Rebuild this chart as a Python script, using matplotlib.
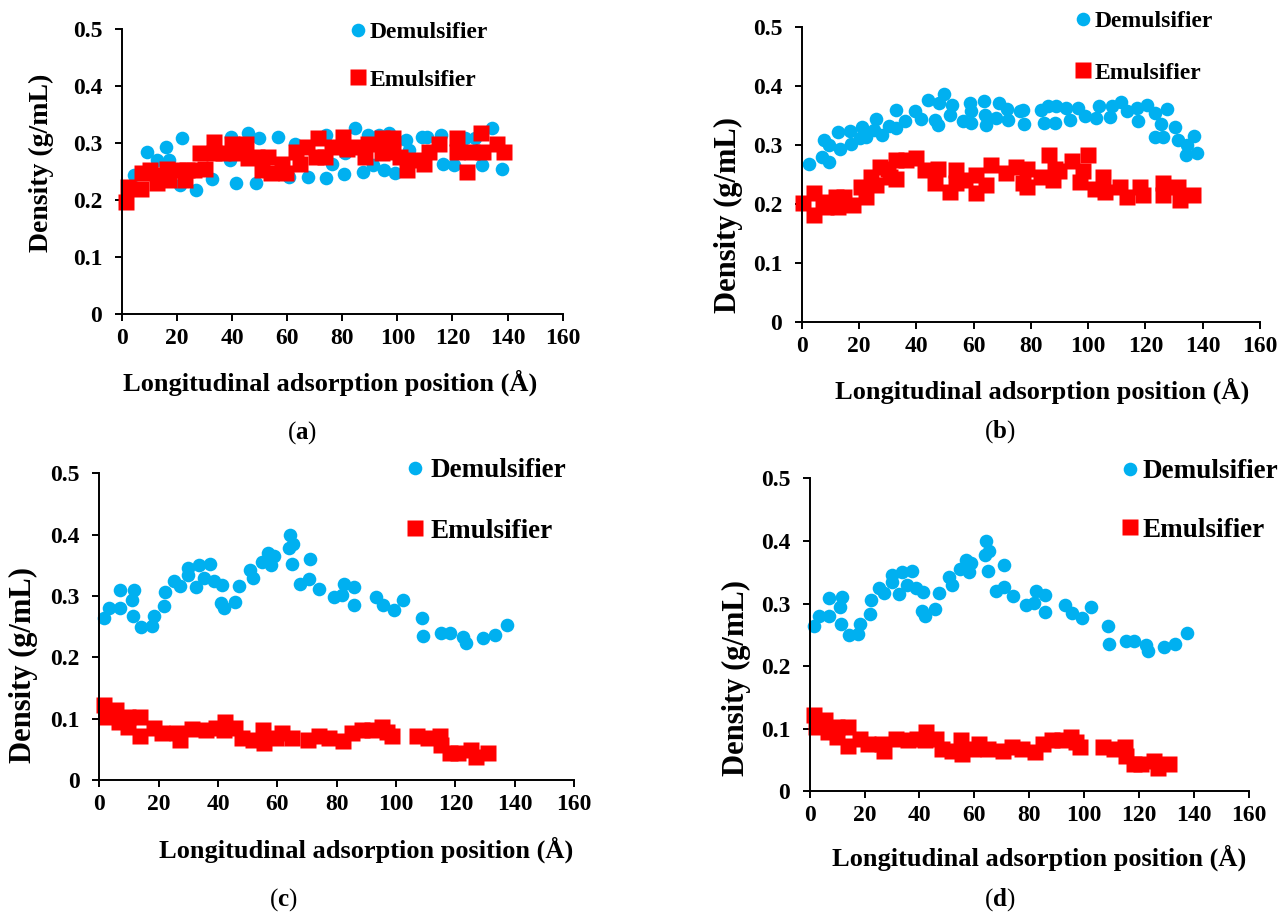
import numpy as np
import matplotlib.pyplot as plt

plt.rcParams['font.family'] = 'Liberation Serif'
plt.rcParams['font.weight'] = 'bold'
plt.rcParams['mathtext.fontset'] = 'custom'
plt.rcParams['mathtext.rm'] = 'Liberation Serif'
plt.rcParams['mathtext.bf'] = 'Liberation Serif:bold'

BLUE = '#00B0F0'
RED = '#FF0000'

# ---- (a) ----
dem_a_x = [4.3, 9.1, 12.7, 16.0, 17.3, 21.2, 21.8, 26.8, 32.9, 39.4, 39.7, 41.3, 45.8, 48.8,
           49.7, 56.6, 60.8, 63.0, 67.5, 74.0, 74.0, 76.4, 80.5, 80.9, 84.8, 87.4, 89.4, 91.3,
           93.2, 95.2, 97.1, 99.1, 103.0, 104.3, 108.8, 110.8, 116.0, 116.6, 120.5, 124.4,
           128.3, 130.9, 134.2, 138.1]
dem_a_y = [0.244, 0.285, 0.270, 0.293, 0.270, 0.226, 0.308, 0.217, 0.236, 0.270, 0.310, 0.229,
           0.317, 0.229, 0.308, 0.311, 0.241, 0.299, 0.241, 0.314, 0.238, 0.264, 0.245, 0.282,
           0.327, 0.250, 0.314, 0.261, 0.314, 0.252, 0.317, 0.247, 0.305, 0.288, 0.311, 0.311,
           0.314, 0.264, 0.261, 0.308, 0.308, 0.261, 0.326, 0.255]
emu_a_x = [1.7, 2.3, 6.9, 7.5, 10.1, 12.7, 13.4, 16.6, 17.3, 20.5, 23.1, 23.8, 26.4, 28.3,
           30.3, 33.5, 33.5, 36.8, 40.0, 41.3, 45.2, 45.8, 49.1, 51.0, 53.0, 54.3, 58.2, 59.5,
           63.4, 64.7, 67.3, 70.5, 71.2, 73.8, 76.4, 80.3, 81.6, 85.5, 88.1, 89.4, 94.5, 94.5,
           98.4, 98.4, 101.0, 103.6, 106.2, 109.5, 111.4, 115.3, 121.8, 121.8, 125.1, 127.0,
           130.3, 131.0, 136.1, 138.7]
emu_a_y = [0.197, 0.223, 0.220, 0.247, 0.252, 0.229, 0.244, 0.255, 0.235, 0.252, 0.235, 0.252,
           0.252, 0.282, 0.255, 0.302, 0.282, 0.282, 0.299, 0.282, 0.299, 0.273, 0.276, 0.252,
           0.276, 0.247, 0.264, 0.247, 0.285, 0.264, 0.293, 0.276, 0.308, 0.276, 0.293, 0.311,
           0.290, 0.293, 0.276, 0.299, 0.308, 0.282, 0.308, 0.285, 0.276, 0.252, 0.270, 0.264,
           0.285, 0.299, 0.308, 0.285, 0.250, 0.285, 0.317, 0.285, 0.299, 0.285]

# ---- (b) ----
dem_b_x = [2.7, 7.1, 7.9, 9.7, 9.7, 12.6, 13.4, 16.9, 17.3, 20.2, 21.1, 22.3, 25.4, 25.8,
           28.1, 30.4, 32.8, 33.0, 35.9, 39.4, 41.5, 44.1, 46.4, 47.6, 48.1, 49.7, 51.9, 52.6,
           56.3, 58.6, 59.2, 59.2, 63.5, 63.9, 64.2, 68.0, 68.9, 71.5, 72.0, 76.1, 77.3, 77.5,
           83.7, 84.5, 86.0, 88.3, 88.9, 92.2, 93.6, 96.5, 98.8, 102.9, 103.9, 107.6, 108.2,
           111.3, 113.4, 117.3, 116.9, 120.4, 123.3, 123.3, 126.2, 125.6, 127.7, 130.3, 131.5,
           134.4, 134.1, 137.1, 137.9]
dem_b_y = [0.267, 0.279, 0.308, 0.300, 0.271, 0.321, 0.293, 0.323, 0.302, 0.311, 0.331, 0.313,
           0.325, 0.344, 0.317, 0.332, 0.328, 0.359, 0.340, 0.357, 0.344, 0.376, 0.342, 0.334,
           0.371, 0.386, 0.351, 0.368, 0.340, 0.371, 0.337, 0.357, 0.374, 0.351, 0.334, 0.345,
           0.371, 0.360, 0.342, 0.357, 0.359, 0.336, 0.359, 0.337, 0.365, 0.337, 0.365, 0.363,
           0.342, 0.362, 0.349, 0.345, 0.365, 0.348, 0.366, 0.372, 0.357, 0.340, 0.362, 0.368,
           0.354, 0.314, 0.314, 0.336, 0.360, 0.331, 0.308, 0.300, 0.283, 0.315, 0.287]
emu_b_x = [0.4, 4.3, 4.3, 7.3, 8.5, 12.0, 12.6, 14.9, 17.8, 20.7, 22.5, 24.2, 26.0, 27.2,
           30.1, 30.7, 32.8, 33.0, 36.5, 40.0, 42.9, 46.4, 47.6, 51.6, 54.0, 54.0, 56.9, 61.0,
           61.0, 64.5, 66.2, 71.2, 74.9, 77.3, 78.7, 78.7, 83.7, 86.4, 87.8, 88.3, 89.9, 94.2,
           97.1, 98.3, 100.0, 102.3, 105.3, 105.8, 111.1, 113.4, 118.1, 119.2, 126.2, 126.2,
           131.5, 132.0, 136.7]
emu_b_y = [0.202, 0.218, 0.181, 0.204, 0.195, 0.212, 0.195, 0.212, 0.198, 0.229, 0.212, 0.246,
           0.232, 0.263, 0.260, 0.246, 0.243, 0.274, 0.274, 0.277, 0.257, 0.235, 0.260, 0.221,
           0.257, 0.235, 0.241, 0.218, 0.249, 0.232, 0.266, 0.252, 0.263, 0.235, 0.229, 0.260,
           0.246, 0.283, 0.241, 0.260, 0.255, 0.272, 0.238, 0.255, 0.283, 0.226, 0.246, 0.221,
           0.229, 0.212, 0.229, 0.215, 0.235, 0.215, 0.229, 0.207, 0.215]

# ---- (c) ----
dem_c_x = [1.7, 3.4, 6.9, 6.9, 11.0, 11.8, 11.5, 14.2, 17.6, 18.5, 21.8, 22.2, 25.2, 27.1,
           29.9, 30.0, 32.7, 33.6, 37.2, 35.3, 38.6, 41.2, 40.9, 42.0, 45.6, 47.0, 50.9, 51.7,
           54.9, 56.9, 58.8, 58.0, 63.8, 65.2, 64.4, 65.0, 67.8, 70.8, 70.9, 74.2, 79.0, 81.7,
           82.5, 85.9, 85.9, 93.2, 95.7, 99.3, 102.5, 108.6, 109.0, 115.3, 118.1, 122.6, 123.5,
           129.3, 133.3, 137.5]
dem_c_y = [0.264, 0.280, 0.280, 0.309, 0.294, 0.310, 0.268, 0.250, 0.251, 0.268, 0.284, 0.306,
           0.324, 0.317, 0.334, 0.346, 0.315, 0.351, 0.352, 0.329, 0.325, 0.318, 0.288, 0.280,
           0.291, 0.317, 0.342, 0.329, 0.355, 0.370, 0.365, 0.350, 0.378, 0.384, 0.400, 0.352,
           0.320, 0.327, 0.361, 0.312, 0.298, 0.301, 0.320, 0.314, 0.286, 0.298, 0.285, 0.277,
           0.294, 0.264, 0.235, 0.240, 0.240, 0.233, 0.224, 0.231, 0.236, 0.253]
emu_c_x = [1.7, 2.2, 5.6, 6.5, 9.8, 9.8, 13.8, 13.8, 18.5, 21.3, 26.3, 27.1, 31.4, 35.8,
           39.2, 42.5, 42.0, 45.9, 48.2, 51.7, 55.1, 55.4, 59.4, 61.6, 64.9, 70.5, 73.9, 77.3,
           82.3, 85.1, 88.5, 91.8, 95.2, 96.9, 98.5, 107.0, 110.9, 114.8, 115.3, 118.1, 120.9,
           125.4, 127.1, 131.0]
emu_c_y = [0.122, 0.103, 0.114, 0.095, 0.103, 0.087, 0.103, 0.072, 0.084, 0.076, 0.076, 0.065,
           0.083, 0.082, 0.084, 0.095, 0.082, 0.084, 0.068, 0.065, 0.082, 0.060, 0.068, 0.076,
           0.068, 0.065, 0.071, 0.068, 0.063, 0.076, 0.082, 0.082, 0.087, 0.079, 0.071, 0.071,
           0.068, 0.071, 0.057, 0.044, 0.044, 0.049, 0.038, 0.044]

# (d) shows the same profile as (c)
dem_d_x, dem_d_y = dem_c_x, dem_c_y
emu_d_x, emu_d_y = emu_c_x, emu_c_y

y_ticks = [0, 0.1, 0.2, 0.3, 0.4, 0.5]
y_ticklabels = ['0', '0.1', '0.2', '0.3', '0.4', '0.5']
x_ticks = list(range(0, 161, 20))

W, H = 1280, 916
fig = plt.figure(figsize=(W / 100, H / 100), dpi=100)


def px(x, y):
    '''Pixelkoordinaten (von oben links) in Figure-Koordinaten'''
    return x / W, 1 - y / H


def panel(box, dx, dy, ex, ey, leg_xy, leg_fs, leg_sp, leg_pad):
    left, top, right, bottom = box
    ax = fig.add_axes([left / W, 1 - bottom / H, (right - left) / W, (bottom - top) / H])
    ax.plot(dx, dy, 'o', color=BLUE, ms=9.8, mec='none', clip_on=False, label='Demulsifier')
    ax.plot(ex, ey, 's', color=RED, ms=11.3, mec='none', clip_on=False, label='Emulsifier')
    ax.set_xlim(0, 160)
    ax.set_ylim(0, 0.5)
    ax.set_xticks(x_ticks)
    ax.set_yticks(y_ticks)
    ax.set_yticklabels(y_ticklabels)
    ax.spines['top'].set_visible(False)
    ax.spines['right'].set_visible(False)
    for s in ['left', 'bottom']:
        ax.spines[s].set_linewidth(1.4)
    ax.tick_params(direction='out', length=5, width=1.4, labelsize=17)
    ax.tick_params(axis='x', pad=5)
    ax.tick_params(axis='y', pad=9)
    ax.legend(loc='center left', bbox_to_anchor=px(*leg_xy), bbox_transform=fig.transFigure,
              frameon=False, fontsize=leg_fs, handlelength=0.6, handletextpad=leg_pad,
              labelspacing=leg_sp, borderpad=0, borderaxespad=0, numpoints=1)
    return ax


panel((121.7, 29, 562.7, 314), dem_a_x, dem_a_y, emu_a_x, emu_a_y, (351, 56), 17, 1.1, 0.2)
panel((801.7, 26.7, 1260, 322.2), dem_b_x, dem_b_y, emu_b_x, emu_b_y, (1076, 47), 17, 1.29, 0.2)
panel((99.3, 473.3, 574, 780), dem_c_x, dem_c_y, emu_c_x, emu_c_y, (407, 501), 19.5, 1.3, 0.25)
panel((809.7, 478.3, 1248.6, 791.3), dem_d_x, dem_d_y, emu_d_x, emu_d_y, (1122, 501), 19.5, 1.25, 0.16)

xlab = 'Longitudinal adsorption position (Å)'
ylab = 'Density (g/mL)'
for (x, y) in [(330, 383), (1042, 391), (366, 850), (1039, 858)]:
    fig.text(*px(x, y), xlab, ha='center', va='center', fontsize=19)
for (x, y, fs) in [(41.7, 163, 20), (728, 215, 22), (23, 665, 22), (736, 678, 22)]:
    fig.text(*px(x, y), ylab, ha='center', va='center', rotation=90, fontsize=fs)

for lab, (x, y) in zip('abcd', [(302, 433), (1000, 432), (283, 900), (1000, 900)]):
    fig.text(*px(x, y), r'($\mathbf{' + lab + '}$)', ha='center', va='center',
             fontsize=18, fontweight='normal')

fig.savefig('out.png', dpi=100)
